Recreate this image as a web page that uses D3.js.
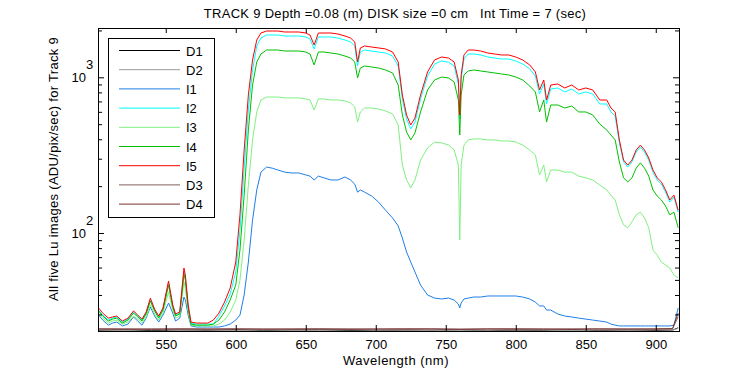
<!DOCTYPE html>
<html>
<head>
<meta charset="utf-8">
<script src="https://cdnjs.cloudflare.com/ajax/libs/d3/7.8.5/d3.min.js"></script>
<style>
  body { margin: 0; background: #fff; }
  svg { display: block; font-family: "Liberation Sans", Arial, Helvetica, sans-serif; }
</style>
</head>
<body>
<svg></svg>
<script>
// wavelength grid (nm) shared by the five image spectra
let wavelengths = [
  502,505,509,512,515,519,523,527,530,533,536,539,542,545,548,552,555,557,560,563,564,566,568,
  572,576,580,584,588,592,596,600,603,606,609,612,615,618,622,
  626,630,635,640,645,650,653,656,659,663,668,673,678,682,685,687,689,692,697,702,707,712,
  716,719,722,725,728,732,737,742,747,752,756,759,760,761,763,766,
  770,775,780,785,790,795,800,805,810,814,817,820,822,825,
  830,835,840,845,850,855,860,865,868,871,874,877,880,883,886,889,892,895,898,901,904,907,910,913,916
]

// ADU/pix/sec
let i1 = [
  29.7,27.6,25.6,26.4,26.8,25.3,26.0,28.9,27.2,25.6,28.4,33.5,29.3,26.8,29.7,35.5,30.6,27.2,28.4,38.8,37.1,29.7,25.3,
  24.9,24.9,24.9,24.9,24.9,25.3,26.0,27.6,29.7,40.0,65.1,121,189,246,265,
  261,254,246,243,243,236,232,219,232,226,219,219,229,219,206,183,189,183,173,158,140,125,
  111,92.9,75.5,65.1,56.2,46.3,40.0,38.2,37.7,38.2,37.1,35.0,33.0,35.5,37.7,38.2,
  38.8,38.8,39.4,39.4,39.4,39.4,39.4,38.8,37.7,36.0,34.0,34.0,32.0,32.0,
  30.2,29.3,28.9,28.4,28.0,27.6,27.2,26.8,26.0,25.6,25.3,25.3,25.3,25.3,25.3,25.3,25.3,25.3,25.3,25.3,25.3,25.3,25.3,25.6,33.0
]
let i2 = [
  32.0,29.7,27.6,28.4,28.9,26.8,28.0,31.1,29.3,27.6,30.6,37.1,32.0,28.9,32.5,47.8,34.0,29.7,30.6,57.0,51.4,34.0,26.4,
  26.0,26.0,26.0,26.0,29.3,34.0,40.6,56.2,104,261,617,1114,1589,1788,1869,
  1869,1869,1842,1842,1842,1815,1762,1520,1815,1815,1815,1788,1736,1685,1589,1182,1454,1497,1475,1454,1432,1370,
  1182,726,540,466,516,726,1019,1218,1273,1250,1182,906,540,975,1311,1411,
  1411,1391,1350,1330,1311,1311,1273,1218,1131,1019,781,906,674,841,
  854,805,841,781,805,781,674,674,599,564,379,286,265,286,331,357,331,294,246,219,206,183,158,170,136
]
let i3 = [
  30.6,28.4,26.4,27.2,27.6,26.0,26.8,29.3,28.0,26.4,28.9,34.5,30.2,27.6,30.6,41.8,32.0,28.4,29.3,48.5,44.3,31.6,25.6,
  25.3,25.3,25.3,25.3,26.0,27.6,31.1,37.1,49.9,90.2,203,396,599,715,747,
  747,747,737,737,737,726,715,617,726,726,715,715,705,684,645,516,599,635,635,626,608,582,
  494,273,219,195,219,294,352,384,379,367,341,273,90.2,273,367,396,
  402,402,396,396,390,390,384,367,341,317,236,273,213,254,
  254,246,246,232,226,219,203,189,175,163,131,113,108,118,131,136,125,108,77.8,72.2,65.1,62.3,59.6,53.7,51.4
]
let i4 = [
  31.6,29.3,27.2,28.0,28.4,26.4,27.6,30.6,28.9,27.2,30.2,36.6,31.6,28.4,32.0,46.3,33.5,29.3,30.2,54.5,49.9,33.0,26.0,
  25.6,25.6,25.6,26.0,27.6,31.1,37.1,46.3,77.8,175,459,892,1254,1411,1497,
  1497,1497,1475,1475,1475,1454,1411,1200,1454,1454,1432,1411,1370,1330,1254,990,1147,1182,1165,1147,1114,1066,
  892,573,445,396,439,599,829,961,1004,990,933,715,426,770,1035,1098,
  1114,1098,1082,1066,1050,1035,1004,961,879,805,599,715,516,664,
  664,635,654,599,599,573,501,459,426,396,286,226,213,226,261,282,261,232,189,173,163,149,131,136,108
]
let i5 = [
  33.0,30.6,28.4,28.9,29.3,27.2,28.4,31.6,29.7,28.0,31.1,38.2,32.5,29.3,33.0,49.2,34.5,30.2,31.1,59.6,53.7,34.5,26.8,
  26.4,26.4,26.4,27.6,30.6,36.0,44.3,65.1,131,341,770,1292,1736,1925,1983,
  1983,1983,1954,1954,1954,1925,1869,1612,1925,1925,1925,1897,1842,1788,1685,1254,1543,1589,1565,1543,1520,1454,
  1254,770,573,494,548,770,1082,1292,1350,1330,1254,961,573,1035,1391,1497,
  1497,1475,1432,1411,1391,1391,1350,1292,1200,1082,829,961,715,892,
  906,854,892,829,854,829,715,715,635,599,396,294,273,294,341,367,341,303,254,226,213,189,163,175,140
]

// dark frames sit on the floor of the plot
let darkWavelengths = [502,520,540,560,580,600,620,640,660,680,700,720,740,760,780,800,820,840,860,880,900,912,916]
let dark1 = [23.7,23.9,23.6,23.8,23.7,23.9,23.6,23.8,23.9,23.7,23.6,23.8,23.7,23.9,23.6,23.8,23.7,23.9,23.6,23.8,23.7,23.8,24.6]
let dark2 = [23.8,23.7,23.9,23.7,23.8,23.6,23.8,23.7,23.8,23.9,23.7,23.8,23.6,23.8,23.7,23.9,23.8,23.6,23.8,23.7,23.9,23.8,24.4]
let dark3 = [24.2,24.1,24.2,24.2,24.1,24.2,24.2,24.1,24.2,24.2,24.1,24.2,24.2,24.1,24.2,24.2,24.1,24.2,24.2,24.1,24.2,24.3,29.0]
let dark4 = [24.2,24.2,24.1,24.2,24.2,24.2,24.1,24.2,24.2,24.1,24.2,24.2,24.2,24.1,24.2,24.2,24.2,24.1,24.2,24.2,24.2,24.3,30.6]

let seriesNames = ["D1", "D2", "I1", "I2", "I3", "I4", "I5", "D3", "D4"]
let seriesColors = ["#000000", "#9a9a9a", "#1f7fe6", "#00ffff", "#80f080", "#00c000", "#ff0000", "#80605c", "#7f3333"]

let xTickValues = [550, 600, 650, 700, 750, 800, 850, 900]
let yMajorTicks = [100, 1000]
let yMajorExponents = ["2", "3"]
let yMinorTicks = [30, 40, 50, 60, 70, 80, 90, 200, 300, 400, 500, 600, 700, 800, 900, 2000]

let titleText = "TRACK 9 Depth =0.08 (m) DISK size =0 cm   Int Time = 7 (sec)"
let xLabelText = "Wavelength (nm)"
let yLabelText = "All five Lu images (ADU/pix/sec) for Track 9"

// canvas and plot box
let width = 750
let height = 375
let plotLeft = 98
let plotRight = 679
let plotTop = 28
let plotBottom = 331
let fontSize = 13

let svg = d3.select("svg")
  .attr("width", width)
  .attr("height", height)

svg.append("rect")
   .attr("width", width)
   .attr("height", height)
   .attr("fill", "#fff")

let xScale = d3.scaleLinear()
               .domain([501.6, 916.6])
               .range([plotLeft, plotRight])

let yScale = d3.scaleLog()
               .domain([23.48, 2073])
               .range([plotBottom, plotTop])

// series table built from the arrays above
let series = [
  {x: darkWavelengths, y: dark1},
  {x: darkWavelengths, y: dark2},
  {x: wavelengths, y: i1},
  {x: wavelengths, y: i2},
  {x: wavelengths, y: i3},
  {x: wavelengths, y: i4},
  {x: wavelengths, y: i5},
  {x: darkWavelengths, y: dark3},
  {x: darkWavelengths, y: dark4}
].map((s, i) => ({
  name: seriesNames[i],
  color: seriesColors[i],
  points: s.x.map((w, j) => [w, s.y[j]])
}))

svg.append("clipPath")
   .attr("id", "plot-clip")
   .append("rect")
   .attr("x", plotLeft)
   .attr("y", plotTop)
   .attr("width", plotRight - plotLeft + 1)
   .attr("height", plotBottom - plotTop + 1)

let line = d3.line()
             .x(d => xScale(d[0]))
             .y(d => yScale(d[1]))

svg.append("g")
   .attr("clip-path", "url(#plot-clip)")
   .selectAll("path")
   .data(series)
   .enter()
   .append("path")
   .attr("d", d => line(d.points))
   .attr("fill", "none")
   .attr("stroke", d => d.color)
   .attr("stroke-width", 1)

// axes: ticks point inward on all four sides
let styleAxis = function(g) {
  g.select(".domain").remove()
  g.selectAll("line").attr("stroke", "#000")
  g.selectAll("text")
   .attr("fill", "#000")
   .style("font-size", fontSize + "px")
   .style("font-family", "Liberation Sans, Arial, sans-serif")
}

svg.append("g")
   .attr("transform", "translate(0," + plotBottom + ")")
   .call(d3.axisBottom(xScale).tickValues(xTickValues).tickSize(-6).tickPadding(9))
   .call(styleAxis)

svg.append("g")
   .attr("transform", "translate(0," + plotTop + ")")
   .call(d3.axisTop(xScale).tickValues(xTickValues).tickSize(-5).tickFormat(""))
   .call(styleAxis)

svg.append("g")
   .attr("transform", "translate(" + plotLeft + ",0)")
   .call(d3.axisLeft(yScale).tickValues(yMajorTicks).tickSize(-6).tickFormat(""))
   .call(styleAxis)

svg.append("g")
   .attr("transform", "translate(" + plotLeft + ",0)")
   .call(d3.axisLeft(yScale).tickValues(yMinorTicks).tickSize(-4).tickFormat(""))
   .call(styleAxis)

svg.append("g")
   .attr("transform", "translate(" + plotRight + ",0)")
   .call(d3.axisRight(yScale).tickValues(yMajorTicks).tickSize(-6).tickFormat(""))
   .call(styleAxis)

svg.append("g")
   .attr("transform", "translate(" + plotRight + ",0)")
   .call(d3.axisRight(yScale).tickValues(yMinorTicks).tickSize(-4).tickFormat(""))
   .call(styleAxis)

// 10^n labels on the log axis
let yLabels = svg.append("g").style("font-size", fontSize + "px")
yMajorTicks.forEach((t, i) => {
  let ty = yScale(t)
  yLabels.append("text")
         .attr("x", plotLeft - 12)
         .attr("y", ty + 5)
         .attr("text-anchor", "end")
         .text("10")
  yLabels.append("text")
         .attr("x", plotLeft - 12)
         .attr("y", ty - 8)
         .text(yMajorExponents[i])
})

// frame
svg.append("rect")
   .attr("x", plotLeft + 0.5)
   .attr("y", plotTop + 0.5)
   .attr("width", plotRight - plotLeft)
   .attr("height", plotBottom - plotTop)
   .attr("fill", "none")
   .attr("stroke", "#000")

// legend
let legend = svg.append("g")
legend.append("rect")
      .attr("x", 108.5)
      .attr("y", 38.5)
      .attr("width", 106)
      .attr("height", 179)
      .attr("fill", "#fff")
      .attr("stroke", "#000")

let rows = legend.selectAll("g.row")
  .data(series)
  .enter()
  .append("g")
  .attr("class", "row")
  .attr("transform", (d, i) => "translate(0," + (50.5 + i * 19.2) + ")")

rows.append("line")
    .attr("x1", 119)
    .attr("x2", 180)
    .attr("stroke", d => d.color)
    .attr("stroke-width", 1)

rows.append("text")
    .attr("x", 186)
    .attr("y", 5)
    .style("font-size", fontSize + "px")
    .text(d => d.name)

// title and axis labels (MATLAB's font runs a little wider)
svg.append("text")
   .attr("x", 395)
   .attr("y", 18)
   .attr("text-anchor", "middle")
   .style("font-size", fontSize + "px")
   .style("letter-spacing", "0.3px")
   .style("white-space", "pre")
   .text(titleText)

svg.append("text")
   .attr("x", 396)
   .attr("y", 365)
   .attr("text-anchor", "middle")
   .style("font-size", fontSize + "px")
   .style("letter-spacing", "0.5px")
   .text(xLabelText)

svg.append("text")
   .attr("transform", "translate(58,169) rotate(-90)")
   .attr("text-anchor", "middle")
   .style("font-size", fontSize + "px")
   .style("letter-spacing", "0.3px")
   .text(yLabelText)
</script>
</body>
</html>
